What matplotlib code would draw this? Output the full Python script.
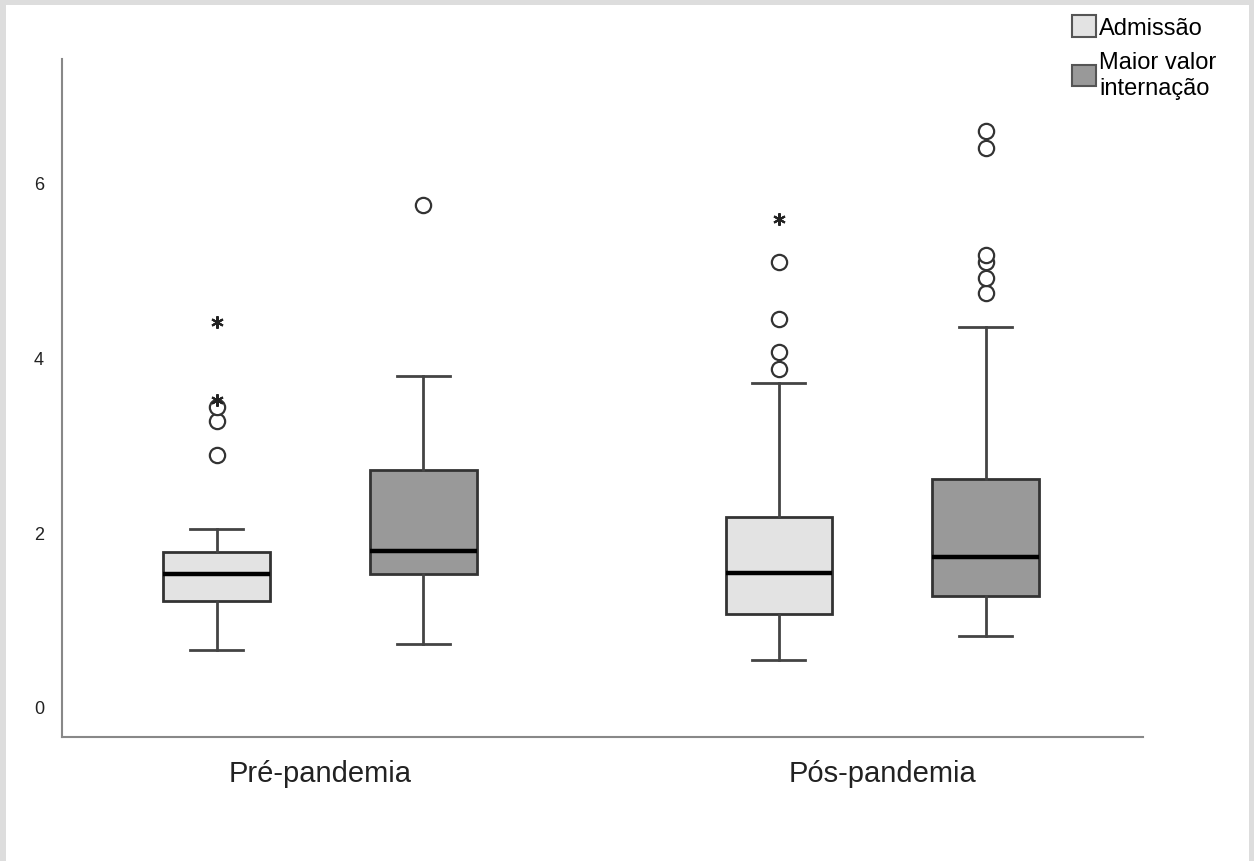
import matplotlib.pyplot as plt
from matplotlib.patches import Patch, Rectangle

# values
groups = ['Pré-pandemia', 'Pós-pandemia']
series = ['Admissão', 'Maior valor\ninternação']
fills = ['#e3e3e3', '#999999']

# [group][series] : q1, median, q3, whisker low, whisker high
q1 = [[1.214, 1.523], [1.065, 1.27]]
med = [[1.523, 1.787], [1.535, 1.72]]
q3 = [[1.775, 2.715], [2.176, 2.61]]
whislo = [[0.653, 0.72], [0.54, 0.81]]
whishi = [[2.04, 3.79], [3.71, 4.35]]
outliers = [[[2.89, 3.28, 3.44], [5.75]],
            [[3.87, 4.07, 4.44, 5.10], [4.74, 4.91, 5.10, 5.17, 6.40, 6.59]]]
extremes = [[[3.52, 4.41], []],
            [[5.59], []]]

plt.rcParams['font.family'] = ['Liberation Sans', 'DejaVu Sans']

fig = plt.figure(figsize=(12.54, 8.62), dpi=100)
ax = fig.add_axes([0.0494, 0.1439, 0.8621, 0.7865])

offset = 0.184
width = 0.189
for gi in range(len(groups)):
    for si in range(len(series)):
        pos = gi + 1 + (-offset if si == 0 else offset)
        st = dict(med=med[gi][si], q1=q1[gi][si], q3=q3[gi][si],
                  whislo=whislo[gi][si], whishi=whishi[gi][si],
                  fliers=outliers[gi][si])
        ax.bxp([st], positions=[pos], widths=width, patch_artist=True,
               showfliers=True,
               boxprops=dict(facecolor=fills[si], edgecolor='#333333', linewidth=2),
               medianprops=dict(color='black', linewidth=3.2),
               whiskerprops=dict(color='#444444', linewidth=2),
               capprops=dict(color='#444444', linewidth=2),
               capwidths=width / 2,
               flierprops=dict(marker='o', markerfacecolor='white',
                               markeredgecolor='#333333', markersize=11,
                               markeredgewidth=1.6))
        if extremes[gi][si]:
            ax.plot([pos] * len(extremes[gi][si]), extremes[gi][si],
                    linestyle='none', marker=(6, 2, 0), color='#222222',
                    markersize=9, markeredgewidth=1.5, zorder=4)

ax.set_xlim(0.541, 2.464)
ax.set_ylim(-0.344, 7.42)
ax.set_xticks([1, 2])
ax.set_xticklabels(groups, fontsize=21, color='#222222')
ax.set_yticks([0, 2, 4, 6])
ax.set_yticklabels(['0', '2', '4', '6'], fontsize=13, color='#222222')
ax.tick_params(axis='both', length=0)
ax.tick_params(axis='y', pad=13)
ax.tick_params(axis='x', pad=16)
for s in ['top', 'right']:
    ax.spines[s].set_visible(False)
for s in ['left', 'bottom']:
    ax.spines[s].set_color('#888888')
    ax.spines[s].set_linewidth(1.5)

handles = [Patch(facecolor=fills[i], edgecolor='#555555', linewidth=1.5) for i in range(2)]
leg = fig.legend(handles, series, loc='upper left', bbox_to_anchor=(0.855, 0.981),
                 frameon=False, fontsize=17, handlelength=1.0, handleheight=1.0,
                 handletextpad=0.15, labelspacing=0.5, borderpad=0, borderaxespad=0)
for t in leg.get_texts():
    t.set_linespacing(1.25)

# light grey frame around the picture
for r in [Rectangle((0, 0.993), 1, 0.007), Rectangle((0, 0), 0.005, 1),
          Rectangle((0.996, 0), 0.004, 1)]:
    r.set_transform(fig.transFigure)
    r.set_facecolor('#dddddd')
    r.set_edgecolor('none')
    fig.patches.append(r)

fig.savefig('out.png', dpi=100)
